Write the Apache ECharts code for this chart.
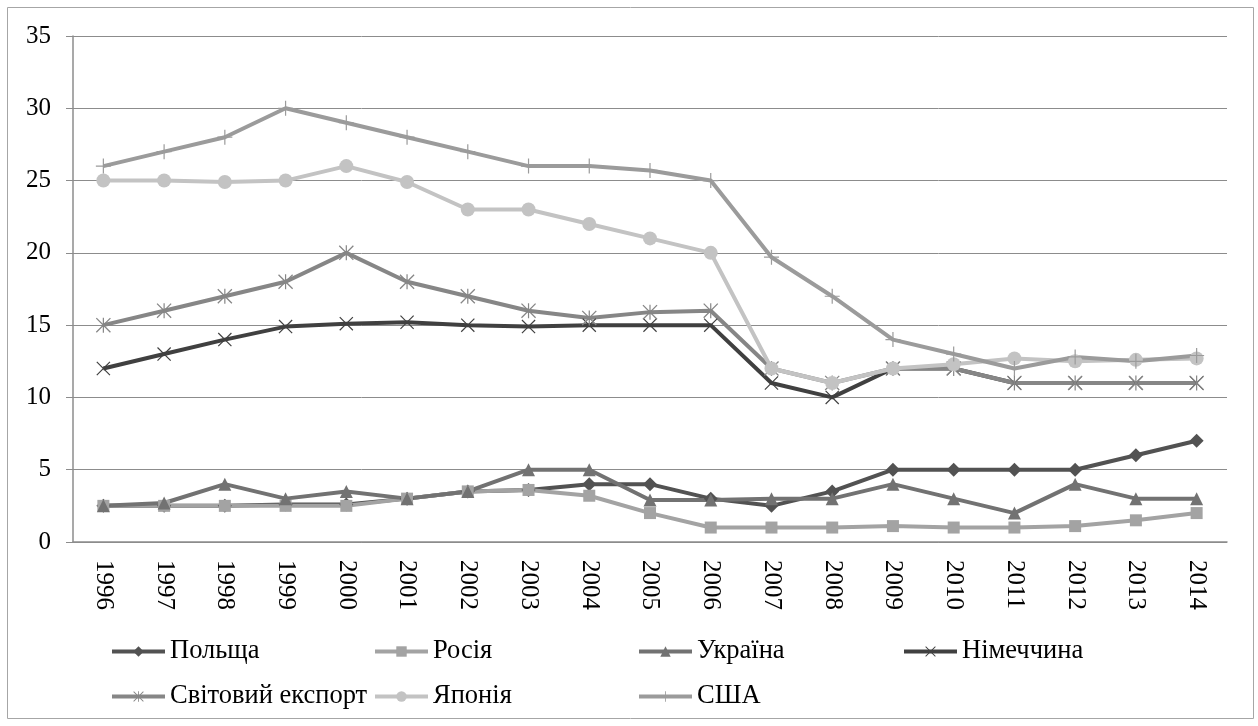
<!DOCTYPE html>
<html>
<head>
<meta charset="utf-8">
<script src="https://cdn.jsdelivr.net/npm/echarts@6/dist/echarts.min.js"></script>
<style>
  html, body { margin: 0; padding: 0; background: #fff; }
  #chart { width: 1258px; height: 726px; }
</style>
</head>
<body>
<div id="chart"></div>
<script>
const years = ['1996','1997','1998','1999','2000','2001','2002','2003','2004','2005',
  '2006','2007','2008','2009','2010','2011','2012','2013','2014'];
const yTicks = [0, 5, 10, 15, 20, 25, 30, 35];

const poland  = [2.5, 2.5, 2.5, 2.6, 2.6, 3, 3.5, 3.6, 4, 4, 3, 2.5, 3.5, 5, 5, 5, 5, 6, 7];
const russia  = [2.5, 2.5, 2.5, 2.5, 2.5, 3, 3.5, 3.6, 3.2, 2, 1, 1, 1, 1.1, 1, 1, 1.1, 1.5, 2];
const ukraine = [2.5, 2.7, 4, 3, 3.5, 3, 3.5, 5, 5, 2.9, 2.9, 3, 3, 4, 3, 2, 4, 3, 3];
const germany = [12, 13, 14, 14.9, 15.1, 15.2, 15, 14.9, 15, 15, 15, 11, 10, 12, 12, 11, 11, 11, 11];
const worldExport = [15, 16, 17, 18, 20, 18, 17, 16, 15.5, 15.9, 16, 12, 11, 12, 12, 11, 11, 11, 11];
const japan   = [25, 25, 24.9, 25, 26, 24.9, 23, 23, 22, 21, 20, 12, 11, 12, 12.3, 12.7, 12.5, 12.6, 12.7];
const usa     = [26, 27, 28, 30, 29, 28, 27, 26, 26, 25.7, 25, 19.7, 17, 14, 13, 12, 12.8, 12.5, 12.9];

// custom marker shapes (thin filled bars so they look like strokes)
const plusPath = 'path://M4.6,0h0.8v10h-0.8z M0,4.6h10v0.8h-10z';
const crossPath = 'path://M0,0.6L0.6,0L10,9.4L9.4,10Z M9.4,0L10,0.6L0.6,10L0,9.4Z';
const starPath = 'path://M0,0.6L0.6,0L10,9.4L9.4,10Z M9.4,0L10,0.6L0.6,10L0,9.4Z M4.6,0h0.8v10h-0.8z';

const seriesDefs = [
  { name: 'Польща', data: poland, color: '#525252', symbol: 'diamond', size: 14 },
  { name: 'Росія', data: russia, color: '#a3a3a3', symbol: 'rect', size: 12 },
  { name: 'Україна', data: ukraine, color: '#727272', symbol: 'triangle', size: 13 },
  { name: 'Німеччина', data: germany, color: '#404040', symbol: crossPath, size: 14 },
  { name: 'Світовий експорт', data: worldExport, color: '#868686', symbol: starPath, size: 15 },
  { name: 'Японія', data: japan, color: '#c3c3c3', symbol: 'circle', size: 14 },
  { name: 'США', data: usa, color: '#9b9b9b', symbol: plusPath, size: 15 }
];

// legend placement, Excel-like columns
const legendPos = [
  [110, 638], [373, 638], [637, 638], [902, 638],
  [110, 683], [373, 683], [637, 683]
];

const fontFamily = 'Liberation Serif';

const myChart = echarts.init(document.getElementById('chart'));

const option = {
  animation: false,
  textStyle: { fontFamily: fontFamily },
  graphic: [{
    type: 'rect',
    shape: { x: 7.5, y: 7.5, width: 1246, height: 711 },
    style: { fill: 'none', stroke: '#a6a6a6', lineWidth: 1 },
    silent: true
  }],
  grid: { left: 73, right: 31, top: 36, bottom: 184, containLabel: false },
  legend: seriesDefs.map((s, i) => ({
    left: legendPos[i][0],
    top: legendPos[i][1],
    padding: 0,
    itemWidth: 53,
    itemHeight: 13,
    itemGap: 5,
    data: [s.name],
    lineStyle: { width: 4 },
    textStyle: { fontSize: 26.5, color: '#000', fontFamily: fontFamily }
  })),
  xAxis: {
    type: 'category',
    data: years,
    boundaryGap: true,
    axisLine: { lineStyle: { color: '#8c8c8c', width: 1.5 } },
    axisTick: { inside: true, length: 8, lineStyle: { color: '#8c8c8c' } },
    axisLabel: { rotate: -90, margin: 18, fontSize: 25, color: '#000', fontFamily: fontFamily, interval: 0 }
  },
  yAxis: {
    type: 'value',
    min: yTicks[0],
    max: yTicks[yTicks.length - 1],
    interval: 5,
    axisLine: { show: true, lineStyle: { color: '#8c8c8c', width: 1.5 } },
    axisTick: { show: true, length: 7, lineStyle: { color: '#8c8c8c' } },
    axisLabel: { margin: 22, fontSize: 25, color: '#000', fontFamily: fontFamily },
    splitLine: { lineStyle: { color: '#8c8c8c', width: 1 } }
  },
  series: seriesDefs.map(s => ({
    name: s.name,
    type: 'line',
    data: s.data,
    symbol: s.symbol,
    symbolSize: s.size,
    showAllSymbol: true,
    color: s.color,
    lineStyle: { width: 4, color: s.color },
    itemStyle: { color: s.color }
  }))
};

myChart.setOption(option);
</script>
</body>
</html>
